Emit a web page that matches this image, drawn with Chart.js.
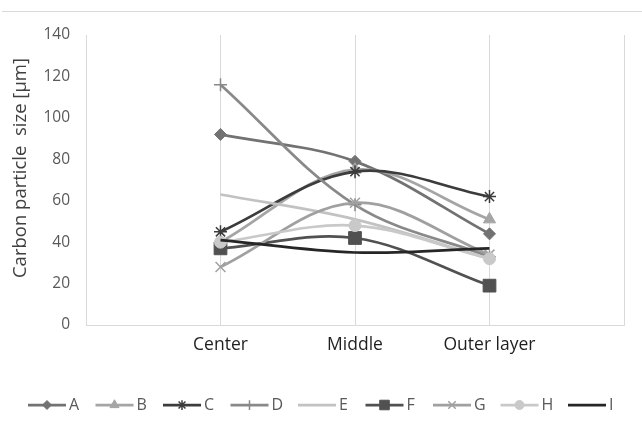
<!DOCTYPE html>
<html>
<head>
<meta charset="utf-8">
<script src="https://cdn.jsdelivr.net/npm/chart.js@4.4.1/dist/chart.umd.min.js"></script>
<style>
    html, body { margin: 0; padding: 0; background: #fff; }
    #wrap { width: 642px; height: 421px; }
</style>
</head>
<body>
<div id="wrap"><canvas id="chart" width="642" height="421"></canvas></div>
<script>
const categories = ['Center', 'Middle', 'Outer layer'];
const seriesNames = ['A', 'B', 'C', 'D', 'E', 'F', 'G', 'H', 'I'];
const valuesA = [92, 79, 44];
const valuesB = [40, 75, 51];
const valuesC = [45, 74, 62];
const valuesD = [116, 58, 33];
const valuesE = [63, 51, 32];
const valuesF = [37, 42, 19];
const valuesG = [28, 59, 34];
const valuesH = [40, 48, 32];
const valuesI = [41, 35, 37];
const yTicks = [0, 20, 40, 60, 80, 100, 120, 140];
const yTitle = 'Carbon particle  size [\u00b5m]';

const allValues = [valuesA, valuesB, valuesC, valuesD, valuesE, valuesF, valuesG, valuesH, valuesI];
const colors = ['#727272', '#a5a5a5', '#3c3c3c', '#898989', '#c2c2c2', '#515151', '#a0a0a0', '#c9c9c9', '#262626'];
const markers = ['rectRot', 'triangle', 'star', 'cross', null, 'rect', 'crossRot', 'circle', null];
const markerSize = { rectRot: 6, triangle: 7, star: 6.5, cross: 6.5, rect: 9, crossRot: 7, circle: 6 };

const FONT = "'Open Sans', sans-serif";

// empty slots at both ends so the categories sit on inner gridlines
const labels = ['', ...categories, ''];

const datasets = seriesNames.map((name, i) => {
    const style = markers[i];
    const thin = style === 'star' || style === 'cross' || style === 'crossRot';
    return {
        label: name,
        data: [null, ...allValues[i], null],
        borderColor: colors[i],
        backgroundColor: colors[i],
        borderWidth: 2.75,
        tension: 0.35,
        spanGaps: true,
        pointStyle: style || 'circle',
        pointRadius: style ? markerSize[style] : 0,
        pointHoverRadius: style ? markerSize[style] : 0,
        pointBackgroundColor: colors[i],
        pointBorderColor: colors[i],
        pointBorderWidth: thin ? 1.5 : 1,
        order: -i
    };
});

const extras = {
    id: 'extras',
    afterDraw(chart) {
        const ctx = chart.ctx;
        ctx.save();

        // frame line on top
        ctx.strokeStyle = '#d9d9d9';
        ctx.lineWidth = 1;
        ctx.beginPath();
        ctx.moveTo(2, 11.5);
        ctx.lineTo(642, 11.5);
        ctx.stroke();

        // y axis title
        ctx.fillStyle = '#404040';
        ctx.font = `18.5px ${FONT}`;
        ctx.textAlign = 'center';
        ctx.textBaseline = 'middle';
        ctx.translate(21, 168);
        ctx.rotate(-Math.PI / 2);
        ctx.fillText(yTitle, 0, 0);
        ctx.setTransform(1, 0, 0, 1, 0, 0);

        // legend
        const y = 405;
        ctx.font = `16px ${FONT}`;
        ctx.textAlign = 'left';
        seriesNames.forEach((name, i) => {
            const x0 = 28 + i * 67.5;
            const x1 = x0 + 38;
            ctx.strokeStyle = colors[i];
            ctx.lineWidth = 2.75;
            ctx.beginPath();
            ctx.moveTo(x0, y);
            ctx.lineTo(x1, y);
            ctx.stroke();
            const style = markers[i];
            if (style) {
                const thin = style === 'star' || style === 'cross' || style === 'crossRot';
                ctx.fillStyle = colors[i];
                ctx.lineWidth = thin ? 1.5 : 1;
                Chart.helpers.drawPoint(ctx, {
                    pointStyle: style,
                    radius: markerSize[style] * 0.75,
                    rotation: 0,
                    borderWidth: thin ? 1.5 : 1
                }, (x0 + x1) / 2, y);
            }
            ctx.fillStyle = '#595959';
            ctx.fillText(name, x1 + 3, y);
        });
        ctx.restore();
    }
};

new Chart(document.getElementById('chart').getContext('2d'), {
    type: 'line',
    data: { labels: labels, datasets: datasets },
    options: {
        responsive: false,
        devicePixelRatio: 1,
        animation: { duration: 0 },
        layout: { padding: { left: 0, top: 35, right: 18, bottom: 0 } },
        plugins: {
            legend: { display: false },
            tooltip: { enabled: false },
            title: { display: false }
        },
        scales: {
            x: {
                type: 'category',
                offset: false,
                grid: { display: true, color: '#d9d9d9', lineWidth: 1, drawTicks: false },
                border: { display: true, color: '#d9d9d9', width: 1 },
                ticks: {
                    autoSkip: false,
                    maxRotation: 0,
                    padding: 10,
                    color: '#1f1f1f',
                    font: { family: FONT, size: 17.5 }
                },
                afterFit: scale => { scale.height = 96; }
            },
            y: {
                min: 0,
                max: 140,
                afterBuildTicks: scale => { scale.ticks = yTicks.map(v => ({ value: v })); },
                grid: { display: false, drawTicks: false },
                border: { display: true, color: '#d9d9d9', width: 1 },
                ticks: {
                    padding: 16,
                    color: '#595959',
                    font: { family: FONT, size: 15.5 }
                },
                afterFit: scale => { scale.width = 86; }
            }
        }
    },
    plugins: [extras]
});
</script>
</body>
</html>
